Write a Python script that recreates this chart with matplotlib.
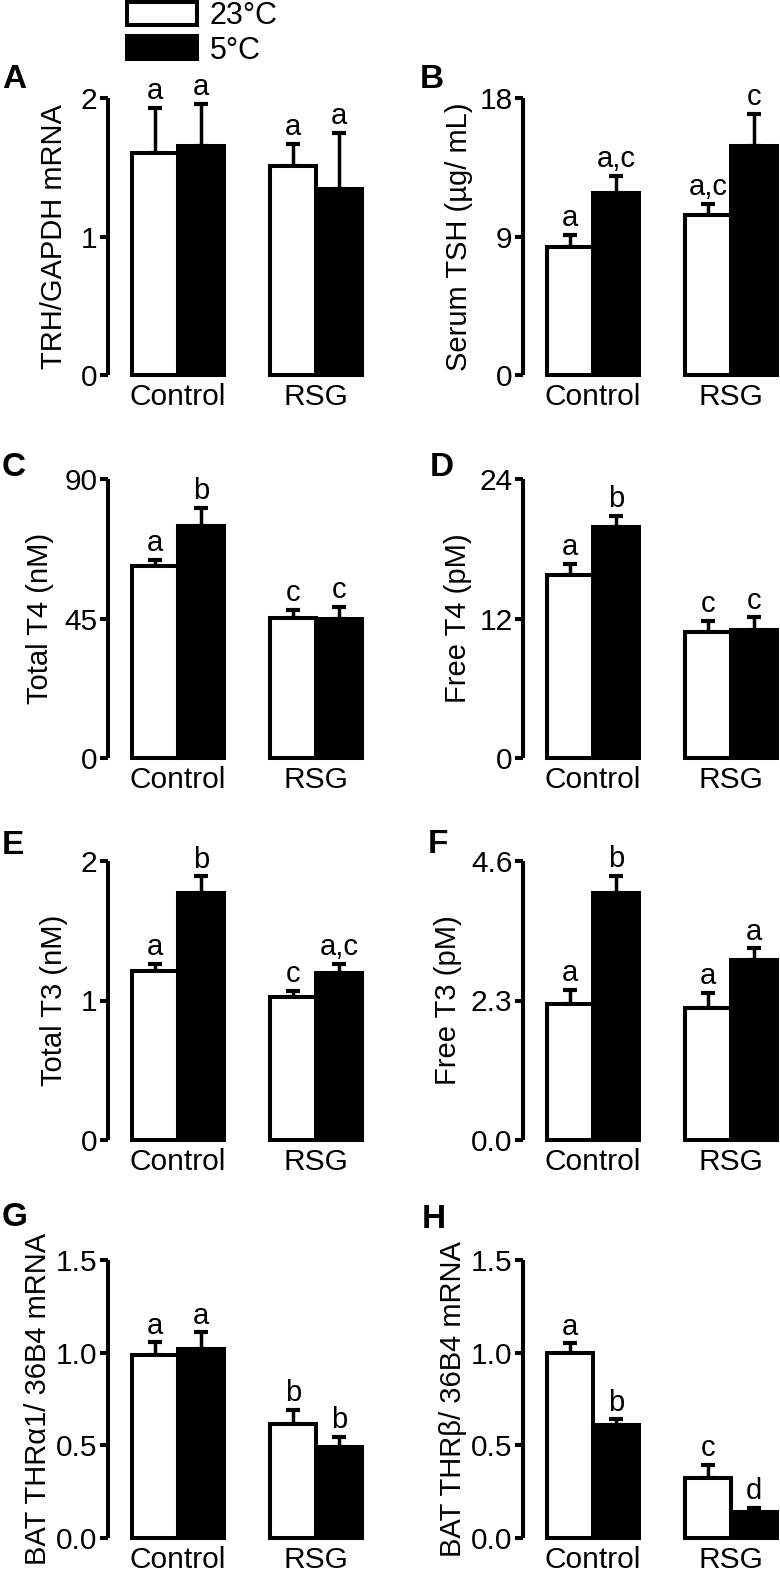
import matplotlib
matplotlib.use("Agg")
import matplotlib.pyplot as plt
from matplotlib.patches import Patch

plt.rcParams['font.family'] = ['Liberation Sans', 'DejaVu Sans']

groups = ['Control', 'RSG']

# A  TRH/GAPDH mRNA
trh_23, trh_23_err = [1.60, 1.51], [0.33, 0.16]
trh_5, trh_5_err = [1.65, 1.34], [0.31, 0.41]
trh_sig23, trh_sig5 = ['a', 'a'], ['a', 'a']
# B  serum TSH
tsh_23, tsh_23_err = [8.3, 10.4], [0.8, 0.7]
tsh_5, tsh_5_err = [11.85, 14.9], [1.1, 2.05]
tsh_sig23, tsh_sig5 = ['a', 'a,c'], ['a,c', 'c']
# C  total T4
tt4_23, tt4_23_err = [61.9, 45.2], [2.0, 2.5]
tt4_5, tt4_5_err = [74.8, 44.8], [5.8, 3.9]
tt4_sig23, tt4_sig5 = ['a', 'c'], ['b', 'c']
# D  free T4
ft4_23, ft4_23_err = [15.7, 10.8], [1.0, 1.0]
ft4_5, ft4_5_err = [19.9, 11.0], [0.9, 1.1]
ft4_sig23, ft4_sig5 = ['a', 'c'], ['b', 'c']
# E  total T3
tt3_23, tt3_23_err = [1.21, 1.025], [0.05, 0.045]
tt3_5, tt3_5_err = [1.77, 1.20], [0.12, 0.06]
tt3_sig23, tt3_sig5 = ['a', 'c'], ['b', 'a,c']
# F  free T3
ft3_23, ft3_23_err = [2.25, 2.17], [0.23, 0.26]
ft3_5, ft3_5_err = [4.07, 2.96], [0.28, 0.20]
ft3_sig23, ft3_sig5 = ['a', 'a'], ['b', 'a']
# G  THRa1
thra_23, thra_23_err = [0.99, 0.615], [0.065, 0.075]
thra_5, thra_5_err = [1.02, 0.49], [0.09, 0.055]
thra_sig23, thra_sig5 = ['a', 'b'], ['a', 'b']
# H  THRb
thrb_23, thrb_23_err = [1.00, 0.324], [0.05, 0.07]
thrb_5, thrb_5_err = [0.61, 0.14], [0.03, 0.022]
thrb_sig23, thrb_sig5 = ['a', 'c'], ['b', 'd']

panels = [
    ('A', 'TRH/GAPDH mRNA', [0, 1, 2], ['0', '1', '2'],
     trh_23, trh_23_err, trh_5, trh_5_err, trh_sig23, trh_sig5),
    ('B', 'Serum TSH (µg/ mL)', [0, 9, 18], ['0', '9', '18'],
     tsh_23, tsh_23_err, tsh_5, tsh_5_err, tsh_sig23, tsh_sig5),
    ('C', 'Total T4 (nM)', [0, 45, 90], ['0', '45', '90'],
     tt4_23, tt4_23_err, tt4_5, tt4_5_err, tt4_sig23, tt4_sig5),
    ('D', 'Free T4 (pM)', [0, 12, 24], ['0', '12', '24'],
     ft4_23, ft4_23_err, ft4_5, ft4_5_err, ft4_sig23, ft4_sig5),
    ('E', 'Total T3 (nM)', [0, 1, 2], ['0', '1', '2'],
     tt3_23, tt3_23_err, tt3_5, tt3_5_err, tt3_sig23, tt3_sig5),
    ('F', 'Free T3 (pM)', [0, 2.3, 4.6], ['0.0', '2.3', '4.6'],
     ft3_23, ft3_23_err, ft3_5, ft3_5_err, ft3_sig23, ft3_sig5),
    ('G', 'BAT THRα1/ 36B4 mRNA', [0, 0.5, 1.0, 1.5], ['0.0', '0.5', '1.0', '1.5'],
     thra_23, thra_23_err, thra_5, thra_5_err, thra_sig23, thra_sig5),
    ('H', 'BAT THRβ/ 36B4 mRNA', [0, 0.5, 1.0, 1.5], ['0.0', '0.5', '1.0', '1.5'],
     thrb_23, thrb_23_err, thrb_5, thrb_5_err, thrb_sig23, thrb_sig5),
]

W, H = 780, 1583
fig = plt.figure(figsize=(W / 100, H / 100), dpi=100)

# pixel layout: (left, right) per column, (top, bottom) per row
cols = [(108, 362), (523, 777)]
rows = [(98, 375), (479, 758), (861, 1140), (1260, 1538)]
ylab_x = [54, 459, 40, 458, 54, 448, 38, 453]
letter_xy = [(14, 79), (432, 79), (14, 467), (442, 467),
             (13, 846), (438, 844), (15, 1218), (434, 1219)]

centers = [0, 3]
bw = 1.0
lw = 2.9

for i, (let, ylab, ticks, tlabels, w, we, b, be, sw, sb) in enumerate(panels):
    (l, r), (t, bt) = cols[i % 2], rows[i // 2]
    ax = fig.add_axes([l / W, 1 - bt / H, (r - l) / W, (bt - t) / H])
    xw = [c - bw / 2 for c in centers]
    xb = [c + bw / 2 for c in centers]
    ax.bar(xw, w, bw, color='white', edgecolor='black', linewidth=lw, clip_on=False, zorder=2)
    ax.bar(xb, b, bw, color='black', edgecolor='black', linewidth=lw, clip_on=False, zorder=2)
    for xs, vals, errs, sig in ((xw, w, we, sw), (xb, b, be, sb)):
        ax.errorbar(xs, vals, yerr=[[0] * len(vals), errs], fmt='none', ecolor='black',
                    elinewidth=2.5, capsize=5, capthick=3, clip_on=False, zorder=1)
        for x, v, e, s in zip(xs, vals, errs, sig):
            ax.annotate(s, (x, v + e), xytext=(0, 2), textcoords='offset points',
                        ha='center', va='bottom', fontsize=21, annotation_clip=False)
    ax.set_xlim(-1.52, 4.0)
    ax.set_ylim(0, ticks[-1])
    ax.set_yticks(ticks)
    ax.set_yticklabels(tlabels)
    ax.set_xticks(centers)
    ax.set_xticklabels(groups)
    for s in ('top', 'right', 'bottom'):
        ax.spines[s].set_visible(False)
    ax.spines['left'].set_linewidth(lw)
    ax.spines['left'].set_capstyle('butt')
    ax.tick_params(axis='y', length=6, width=lw, labelsize=21.5, pad=1.5)
    ax.tick_params(axis='x', length=0, labelsize=21.5, pad=6)
    ax.set_ylabel(ylab, fontsize=21, va='center')
    ax.yaxis.set_label_coords(ylab_x[i] / W, 1 - (t + bt) / 2 / H, transform=fig.transFigure)
    ax.patch.set_visible(False)
    lx, ly = letter_xy[i]
    fig.text(lx / W, 1 - ly / H, let, ha='center', va='center', fontsize=24, fontweight='bold')

handles = [Patch(facecolor='white', edgecolor='black', linewidth=lw),
           Patch(facecolor='black', edgecolor='black', linewidth=lw)]
fig.legend(handles, ['23°C', '5°C'], loc='upper left',
           bbox_to_anchor=(127 / W, 1 - 1 / H), frameon=False, fontsize=22,
           handlelength=2.3, handleheight=0.78, handletextpad=0.4,
           labelspacing=0.15, borderpad=0, borderaxespad=0)

fig.savefig('out.png', dpi=100)
